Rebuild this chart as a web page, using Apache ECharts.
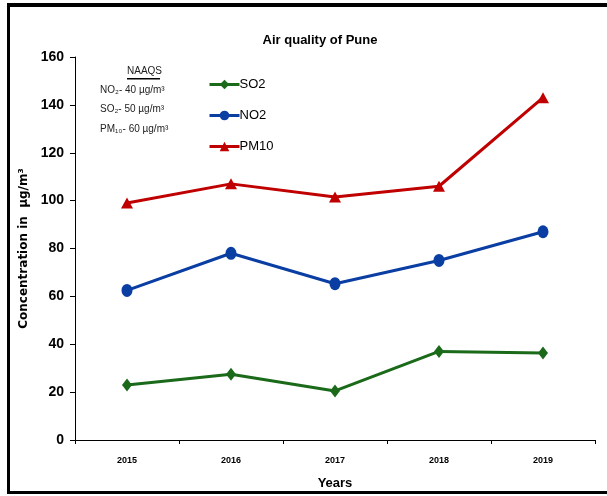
<!DOCTYPE html>
<html>
<head>
<meta charset="utf-8">
<script src="https://cdn.jsdelivr.net/npm/echarts@6/dist/echarts.min.js"></script>
<style>
  html, body { margin: 0; padding: 0; background: #fff; }
  #main { width: 607px; height: 496px; }
</style>
</head>
<body>
<div id="main"></div>
<script type="text/javascript">
var years = ['2015', '2016', '2017', '2018', '2019'];
var so2 = [23, 27.5, 20.5, 37, 36.3];
var no2 = [62.5, 78, 65.3, 75, 87];
var pm10 = [99, 107, 101.5, 106, 143];
var naaqs = ['NO\u2082- 40 \u00b5g/m\u00b3', 'SO\u2082- 50 \u00b5g/m\u00b3', 'PM\u2081\u2080- 60 \u00b5g/m\u00b3'];

var font = '"Liberation Sans Narrow", "Liberation Sans", sans-serif';

var chart = echarts.init(document.getElementById('main'));
var option = {
  backgroundColor: '#fff',
  animation: false,
  title: {
    text: 'Air quality of Pune',
    left: 315, top: 29, textAlign: 'center',
    textStyle: { fontFamily: font, fontSize: 13, fontWeight: 'bold', color: '#000' }
  },
  legend: {
    orient: 'vertical',
    left: 203, top: 73,
    itemWidth: 30, itemHeight: 12, itemGap: 18,
    lineStyle: { width: 3 },
    textStyle: { fontFamily: font, fontSize: 13, color: '#000', padding: [0, 0, 0, -5] },
    data: ['SO2', 'NO2', 'PM10']
  },
  grid: { left: 75, right: 12, top: 57, bottom: 56 },
  xAxis: {
    type: 'category',
    data: years,
    name: 'Years',
    nameLocation: 'middle',
    nameGap: 37,
    nameTextStyle: { fontFamily: font, fontSize: 13, fontWeight: 'bold', color: '#000' },
    axisLine: { lineStyle: { color: '#000', width: 1 } },
    axisTick: { show: true, length: 4, lineStyle: { color: '#000' } },
    axisLabel: { fontFamily: font, fontSize: 9, fontWeight: 'bold', color: '#000', margin: 16 },
    splitLine: { show: false }
  },
  yAxis: {
    type: 'value',
    min: 0, max: 160, interval: 20,
    name: 'Concentration in  \u00b5g/m\u00b3',
    nameLocation: 'middle',
    nameGap: 41,
    nameTextStyle: { fontFamily: '"DejaVu Sans", sans-serif', fontSize: 12, fontWeight: 'bold', color: '#000' },
    axisLine: { show: true, lineStyle: { color: '#000', width: 1 } },
    axisTick: { show: true, length: 5, lineStyle: { color: '#000' } },
    axisLabel: { fontFamily: font, fontSize: 14, fontWeight: 'bold', color: '#000', margin: 11 },
    splitLine: { show: false }
  },
  series: [
    {
      name: 'SO2', type: 'line', data: so2,
      symbol: 'diamond', symbolSize: [10, 13],
      lineStyle: { color: '#1a6a1a', width: 3 },
      itemStyle: { color: '#1a6a1a' }
    },
    {
      name: 'NO2', type: 'line', data: no2,
      symbol: 'circle', symbolSize: [11, 13],
      lineStyle: { color: '#0a3ea3', width: 3 },
      itemStyle: { color: '#0a3ea3' }
    },
    {
      name: 'PM10', type: 'line', data: pm10,
      symbol: 'triangle', symbolSize: [12, 11],
      lineStyle: { color: '#c00000', width: 3 },
      itemStyle: { color: '#c00000' }
    }
  ],
  graphic: [
    { type: 'rect', shape: { x: 7, y: 3, width: 600, height: 4 }, style: { fill: '#000' } },
    { type: 'rect', shape: { x: 7, y: 3, width: 3, height: 490 }, style: { fill: '#000' } },
    { type: 'rect', shape: { x: 7, y: 491, width: 600, height: 3 }, style: { fill: '#000' } },
    { type: 'text', left: 127, top: 66,
      style: { text: 'NAAQS', font: '10px ' + font, fill: '#222' } },
    { type: 'rect', shape: { x: 127, y: 78, width: 33, height: 1.5 }, style: { fill: '#000' } },
    { type: 'text', left: 100, top: 85,
      style: { text: naaqs[0], font: '10px ' + font, fill: '#222' } },
    { type: 'text', left: 100, top: 104,
      style: { text: naaqs[1], font: '10px ' + font, fill: '#222' } },
    { type: 'text', left: 100, top: 124,
      style: { text: naaqs[2], font: '10px ' + font, fill: '#222' } }
  ]
};
chart.setOption(option);
</script>
</body>
</html>
